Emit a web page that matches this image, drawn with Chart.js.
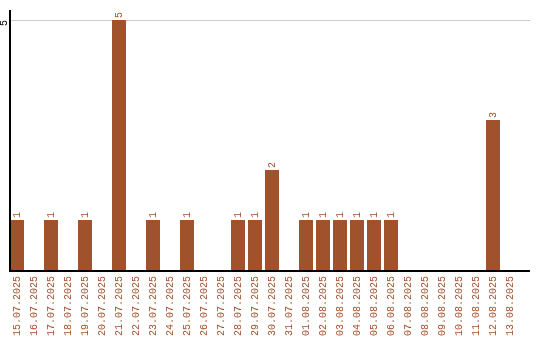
<!DOCTYPE html>
<html><head><meta charset="utf-8">
<script src="https://cdn.jsdelivr.net/npm/chart.js@4/dist/chart.umd.min.js"></script>
<style>html,body{margin:0;padding:0;background:#fff}#wrap{width:540px;height:340px}</style>
</head><body><div id="wrap"><canvas id="c" width="540" height="340"></canvas></div>
<script>
const categories = ["15.07.2025","16.07.2025","17.07.2025","18.07.2025","19.07.2025","20.07.2025","21.07.2025","22.07.2025","23.07.2025","24.07.2025","25.07.2025","26.07.2025","27.07.2025","28.07.2025","29.07.2025","30.07.2025","31.07.2025","01.08.2025","02.08.2025","03.08.2025","04.08.2025","05.08.2025","06.08.2025","07.08.2025","08.08.2025","09.08.2025","10.08.2025","11.08.2025","12.08.2025","13.08.2025"];
const counts = [1,0,1,0,1,0,5,0,1,0,1,0,0,1,1,2,0,1,1,1,1,1,1,0,0,0,0,0,3,0];
const yTicks = [5];

const COLOR = '#a0522d';
const MONO = '"Liberation Mono", monospace';

const decor = {
  id: 'decor',
  beforeDatasetsDraw(chart) {
    const ctx = chart.ctx, y = chart.scales.y;
    ctx.save();
    ctx.strokeStyle = '#cccccc'; ctx.lineWidth = 1;
    yTicks.forEach(v => {
      const py = Math.round(y.getPixelForValue(v)) + 0.5;
      ctx.beginPath(); ctx.moveTo(10, py); ctx.lineTo(530, py); ctx.stroke();
    });
    ctx.restore();
  },
  afterDatasetsDraw(chart) {
    const ctx = chart.ctx, y = chart.scales.y, area = chart.chartArea;
    ctx.save();
    ctx.strokeStyle = '#000'; ctx.lineWidth = 2;
    ctx.beginPath(); ctx.moveTo(10, area.top); ctx.lineTo(10, area.bottom + 1); ctx.lineTo(530, area.bottom + 1); ctx.stroke();
    ctx.fillStyle = '#000'; ctx.font = '10px ' + MONO;
    yTicks.forEach(v => {
      const py = y.getPixelForValue(v);
      ctx.save(); ctx.translate(4, py + 3); ctx.rotate(-Math.PI/2);
      ctx.textAlign = 'center'; ctx.textBaseline = 'middle';
      ctx.fillText(String(v), 0, 0); ctx.restore();
    });
    const meta = chart.getDatasetMeta(0);
    ctx.fillStyle = COLOR; ctx.font = '10px ' + MONO;
    meta.data.forEach((bar, i) => {
      const v = counts[i];
      if (!v) return;
      ctx.save(); ctx.translate(bar.x, bar.y - 2); ctx.rotate(-Math.PI/2);
      ctx.textAlign = 'left'; ctx.textBaseline = 'middle';
      ctx.fillText(String(v), 0, 0); ctx.restore();
    });
    ctx.restore();
  }
};

new Chart(document.getElementById('c'), {
  type: 'bar',
  data: { labels: categories, datasets: [{ data: counts, backgroundColor: COLOR, borderWidth: 0, barPercentage: 14/17, categoryPercentage: 1 }] },
  options: {
    responsive: false, animation: false, devicePixelRatio: 1,
    layout: { padding: { left: 8.5, right: 21.5, top: 10, bottom: 0 } },
    plugins: { legend: { display: false }, tooltip: { enabled: false } },
    scales: {
      x: {
        grid: { display: false, drawTicks: false }, border: { display: false },
        ticks: { color: COLOR, font: { family: MONO, size: 10 }, minRotation: 90, maxRotation: 90, padding: 6, autoSkip: false },
        afterFit(s) { s.height = 70; }
      },
      y: { display: false, min: 0, max: 5.2 }
    }
  },
  plugins: [decor]
});
</script>
</body></html>
